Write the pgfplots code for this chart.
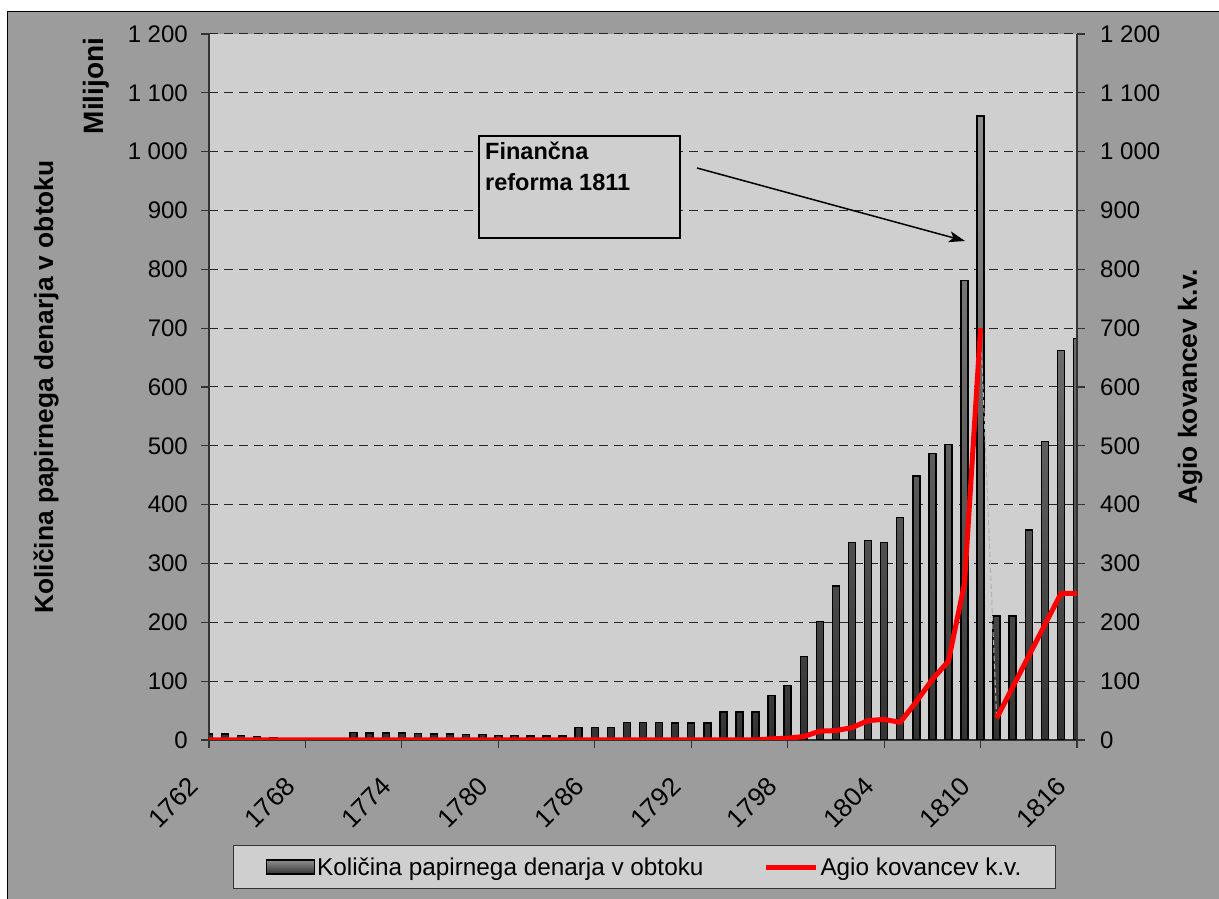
\documentclass[border=0pt]{standalone}
\usepackage{fontspec}
\setmainfont{Liberation Sans}
\usepackage{pgfplots}
\usepackage{pgfplotstable}
\pgfplotsset{compat=1.18}
\usetikzlibrary{arrows.meta}
\definecolor{chartgray}{gray}{0.612}
\definecolor{plotgray}{gray}{0.812}
\definecolor{barbot}{gray}{0.2}
\definecolor{bartop}{gray}{0.56}
\newcommand\regfont{\fontsize{24bp}{28bp}\selectfont}
\newcommand\legfont{\fontsize{24.3bp}{28bp}\selectfont}
\newcommand\yearfont{\fontsize{26bp}{30bp}\selectfont}
\newcommand\titlefont{\bfseries\fontsize{26.3bp}{30bp}\selectfont}
\newcommand\unitfont{\bfseries\fontsize{28bp}{32bp}\selectfont}

\pgfplotstableread{
year val
1762 10
1763 10
1764 8
1765 6
1766 4
1767 2
1768 1
1771 13
1772 12
1773 12
1774 12
1775 11
1776 10
1777 10
1778 9
1779 9
1780 8
1781 8
1782 7
1783 7
1784 7
1785 21
1786 21
1787 21
1788 30
1789 30
1790 30
1791 29
1792 29
1793 29
1794 48
1795 48
1796 48
1797 76
1798 93
1799 142
1800 201
1801 262
1802 336
1803 339
1804 336
1805 378
1806 449
1807 487
1808 502
1809 781
1810 1061
1811 211
1812 211
1813 357
1814 507
1815 662
1816 682
}\bartable

\pgfplotstableread{
year val
1762 0
1763 0
1764 0
1765 0
1766 0
1767 0
1768 0
1769 0
1770 0
1771 0
1772 0
1773 0
1774 0
1775 0
1776 0
1777 0
1778 0
1779 0
1780 0
1781 0
1782 0
1783 0
1784 0
1785 0
1786 0
1787 0
1788 0
1789 0
1790 0
1791 0
1792 0
1793 0
1794 0
1795 0
1796 0
1797 2
1798 3
1799 6
1800 15
1801 16
1802 21
1803 33
1804 35
1805 30
1806 65
1807 103
1808 134
1809 266
1810 700
}\agioA

\pgfplotstableread{
year val
1811 37
1812 90
1813 143
1814 196
1815 249
1816 249
}\agioB

\begin{document}
\begin{tikzpicture}
\begin{scope}[x=1bp,y=1bp]
\useasboundingbox (0,0) rectangle (1219,899);
\fill[white] (0,0) rectangle (1219,899);
\fill[chartgray] (7,0) rectangle (1219,887);
\draw[black, line width=1bp] (7,0) -- (7,887) -- (1219,887);
\end{scope}

\begin{axis}[
  at={(209bp,159bp)}, anchor=south west,
  scale only axis, width=868bp, height=706bp,
  xmin=1762, xmax=1816, ymin=0, ymax=1200,
  axis background/.style={fill=plotgray},
  axis x line*=bottom, axis y line*=left,
  axis line style={black!80, line width=1.3bp, -},
  xtick={1762,1768,1774,1780,1786,1792,1798,1804,1810,1816},
  xticklabels={1762,1768,1774,1780,1786,1792,1798,1804,1810,1816},
  ytick={0,100,...,1200},
  tick align=outside, major tick length=8bp,
  tick style={black!80, line width=1.2bp},
  /pgf/number format/assume math mode=true,
  /pgf/number format/1000 sep={\ },
  tick label style={font=\regfont, black},
  yticklabel style={anchor=east, inner sep=0bp, xshift=-13bp},
  xticklabel style={font=\yearfont, xshift=-15bp, yshift=-34bp, rotate=45, anchor=east, inner sep=0bp},
  ymajorgrids,
  major grid style={black!85, line width=1bp, dash pattern=on 9bp off 6bp},
  ylabel={Količina papirnega denarja v obtoku},
  ylabel style={font=\titlefont, at={(axis description cs:-0.1878,0.5)}, anchor=center},
  clip=true,
]
\addplot[ybar, bar width=7bp, draw=black, line width=1.5bp, top color=bartop, bottom color=barbot]
  table[x=year, y=val]{\bartable};
\end{axis}

\begin{axis}[
  at={(209bp,159bp)}, anchor=south west,
  scale only axis, width=868bp, height=706bp,
  xmin=1762, xmax=1816, ymin=0, ymax=1200,
  axis x line=none, axis y line*=right,
  axis line style={black!80, line width=1.3bp, -},
  ytick={0,100,...,1200},
  tick align=outside, major tick length=8bp,
  tick style={black!80, line width=1.2bp},
  /pgf/number format/assume math mode=true,
  /pgf/number format/1000 sep={\ },
  tick label style={font=\regfont, black},
  yticklabel style={anchor=west, inner sep=0bp, xshift=15bp},
  ylabel={Agio kovancev k.v.},
  ylabel style={font=\titlefont, at={(axis description cs:1.1302,0.5)}, anchor=center},
  legend columns=2,
  legend style={at={(axis description cs:0.5017,-0.1799)}, anchor=center,
    draw=black!80, line width=1bp, fill=plotgray, font=\legfont,
    inner xsep=32bp, inner ysep=10bp,
    /tikz/every even column/.append style={column sep=58bp},
    /tikz/every odd column/.append style={column sep=0bp}},
]
\addlegendimage{legend image code/.code={\draw[black, line width=1.5bp, top color=bartop, bottom color=barbot] (0bp,-7bp) rectangle (48bp,7bp);}}
\addlegendentry{Količina papirnega denarja v obtoku}
\addplot[gray!60, line width=1bp, dash pattern=on 5bp off 3bp, forget plot]
  coordinates {(1810,700) (1811,37)};
\addplot[red, line width=5bp, line join=round,
  legend image code/.code={\draw[red, line width=5bp] (0bp,0bp) -- (50bp,0bp);}]
  table[x=year, y=val]{\agioA};
\addlegendentry{Agio kovancev k.v.}
\addplot[red, line width=5bp, line join=round, forget plot]
  table[x=year, y=val]{\agioB};
\end{axis}

\begin{scope}[x=1bp,y=1bp]
\filldraw[fill=plotgray, draw=black, line width=1.5bp] (479,661) rectangle (680,763);
\node[anchor=base west, inner sep=0pt, font=\bfseries\fontsize{23.5bp}{28bp}\selectfont] at (485,739) {Finančna};
\node[anchor=base west, inner sep=0pt, font=\bfseries\fontsize{23.5bp}{28bp}\selectfont] at (485,708) {reforma 1811};
\draw[line width=1.5bp, -{Stealth[length=16bp, width=11bp, inset=4bp]}] (697,731) -- (965,658);
\node[rotate=90, font=\unitfont] at (96,813) {Milijoni};
\end{scope}
\end{tikzpicture}
\end{document}
